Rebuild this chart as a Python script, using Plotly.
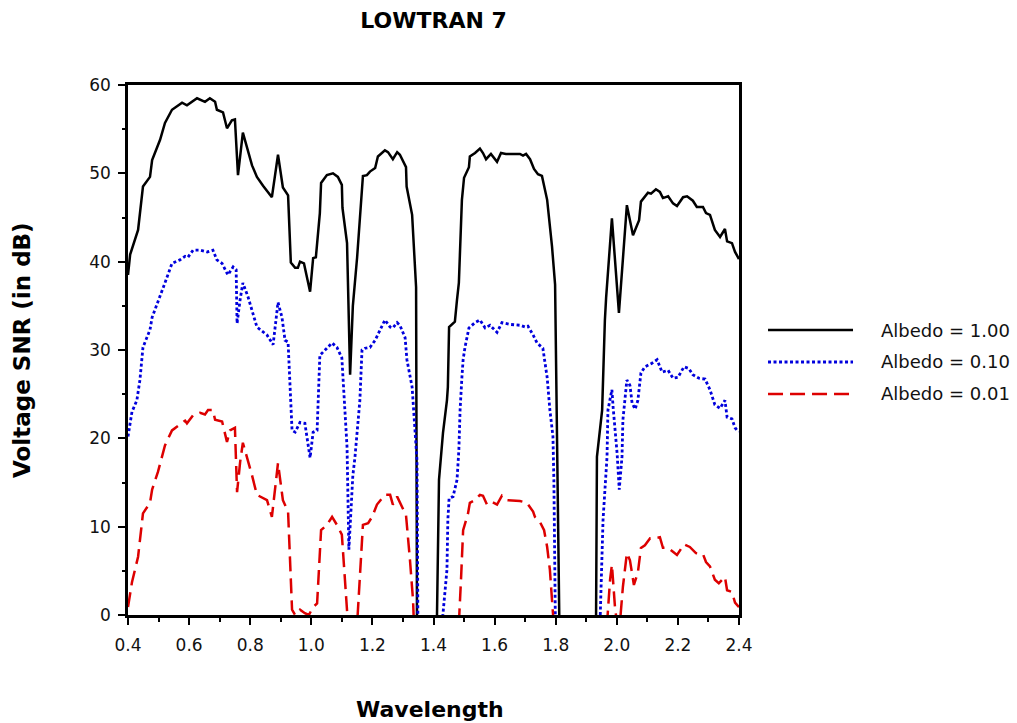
import plotly.graph_objects as go

# Wavelength (µm) and voltage SNR (dB) for three surface albedos, LOWTRAN 7 atmosphere.
# Values of -1 mark the absorption bands where the SNR falls below the axis.
wl_100 = [0.400, 0.407, 0.433, 0.449, 0.472, 0.479, 0.505, 0.521, 0.544, 0.577, 0.593, 0.626,
          0.652, 0.668, 0.685, 0.691, 0.711, 0.724, 0.740, 0.750, 0.760, 0.776, 0.806, 0.822,
          0.842, 0.871, 0.891, 0.907, 0.924, 0.933, 0.947, 0.956, 0.963, 0.976, 0.996, 1.006,
          1.015, 1.028, 1.032, 1.051, 1.071, 1.087, 1.100, 1.102, 1.117, 1.127, 1.136, 1.150,
          1.169, 1.182, 1.192, 1.209, 1.218, 1.241, 1.251, 1.267, 1.281, 1.290, 1.310, 1.312,
          1.330, 1.343, 1.346, 1.411, 1.418, 1.428, 1.431, 1.444, 1.447, 1.451, 1.470, 1.477,
          1.483, 1.493, 1.500, 1.516, 1.519, 1.536, 1.552, 1.562, 1.572, 1.588, 1.608, 1.621,
          1.637, 1.683, 1.693, 1.703, 1.716, 1.729, 1.742, 1.755, 1.772, 1.788, 1.798, 1.812,
          1.932, 1.935, 1.952, 1.961, 1.965, 1.984, 2.007, 2.033, 2.053, 2.073, 2.079, 2.102,
          2.112, 2.128, 2.141, 2.151, 2.168, 2.184, 2.197, 2.217, 2.230, 2.249, 2.262, 2.282,
          2.292, 2.305, 2.321, 2.338, 2.354, 2.361, 2.377, 2.387, 2.397, 2.400]
snr_100 = [38.5, 40.8, 43.6, 48.5, 49.6, 51.5, 53.8, 55.7, 57.2, 58.0, 57.7, 58.5,
           58.1, 58.5, 58.1, 57.2, 56.9, 55.1, 56.0, 56.1, 49.8, 54.6, 50.9, 49.6,
           48.6, 47.3, 52.1, 48.4, 47.5, 39.9, 39.3, 39.3, 40.0, 39.8, 36.6, 40.4,
           40.5, 45.5, 48.9, 49.8, 50.0, 49.6, 48.7, 46.1, 42.1, 27.2, 35.0, 40.5,
           49.7, 49.8, 50.2, 50.6, 51.9, 52.6, 52.4, 51.6, 52.4, 52.1, 50.7, 48.5,
           45.3, 37.1, -1.0, -1.0, 15.3, 19.8, 20.6, 24.3, 25.8, 32.6, 33.2, 35.7,
           37.6, 47.0, 49.5, 50.7, 51.9, 52.3, 52.8, 52.3, 51.6, 52.2, 51.3, 52.3,
           52.2, 52.2, 52.0, 52.2, 51.6, 50.5, 49.9, 49.7, 47.0, 41.7, 37.4, -1.0,
           -1.0, 17.9, 23.2, 33.4, 35.9, 44.9, 34.2, 46.4, 43.0, 44.7, 46.8, 47.8,
           47.7, 48.2, 47.9, 47.2, 47.4, 46.6, 46.3, 47.3, 47.4, 46.9, 46.2, 46.2,
           45.5, 45.3, 43.6, 42.8, 43.7, 42.3, 42.1, 41.1, 40.5, 40.3]

wl_010 = [0.400, 0.413, 0.429, 0.439, 0.449, 0.472, 0.479, 0.498, 0.521, 0.544, 0.570, 0.587,
          0.596, 0.613, 0.636, 0.659, 0.678, 0.691, 0.708, 0.727, 0.744, 0.754, 0.757, 0.767,
          0.776, 0.793, 0.822, 0.855, 0.875, 0.891, 0.904, 0.914, 0.924, 0.937, 0.947, 0.963,
          0.979, 0.996, 1.006, 1.019, 1.028, 1.051, 1.068, 1.084, 1.100, 1.117, 1.123, 1.136,
          1.143, 1.159, 1.166, 1.176, 1.192, 1.209, 1.225, 1.241, 1.258, 1.267, 1.281, 1.290,
          1.307, 1.313, 1.330, 1.339, 1.346, 1.349, 1.428, 1.438, 1.444, 1.447, 1.451, 1.464,
          1.470, 1.477, 1.483, 1.487, 1.493, 1.497, 1.503, 1.516, 1.536, 1.552, 1.569, 1.585,
          1.608, 1.624, 1.650, 1.683, 1.700, 1.709, 1.726, 1.739, 1.758, 1.772, 1.781, 1.791,
          1.794, 1.799, 1.945, 1.955, 1.968, 1.971, 1.984, 1.988, 2.001, 2.008, 2.017, 2.020,
          2.033, 2.043, 2.050, 2.060, 2.069, 2.079, 2.092, 2.115, 2.132, 2.148, 2.168, 2.184,
          2.200, 2.220, 2.236, 2.249, 2.269, 2.289, 2.305, 2.321, 2.338, 2.354, 2.361, 2.377,
          2.387, 2.394, 2.400]
snr_010 = [20.2, 23.0, 24.3, 26.6, 30.3, 32.3, 33.7, 35.4, 37.6, 39.8, 40.2, 40.6,
           40.5, 41.3, 41.3, 41.1, 41.3, 40.2, 39.8, 38.5, 39.4, 39.1, 33.0, 35.7,
           37.6, 36.0, 32.6, 31.7, 30.6, 35.4, 33.7, 31.1, 30.9, 20.9, 20.7, 21.8,
           21.7, 17.8, 20.7, 20.9, 29.4, 30.2, 30.8, 30.3, 29.1, 19.0, 7.4, 15.8,
           17.9, 24.3, 30.0, 30.2, 30.3, 31.1, 32.3, 33.4, 32.6, 32.5, 33.1, 32.8,
           31.4, 28.9, 25.8, 20.6, 17.5, -1.0, -1.0, 2.8, 5.1, 10.8, 13.2, 13.4,
           14.2, 15.3, 18.7, 23.2, 26.9, 28.9, 30.3, 32.5, 33.1, 33.4, 32.5, 32.8,
           32.0, 33.1, 32.9, 32.8, 32.6, 32.7, 31.7, 30.8, 30.2, 26.9, 23.2, 20.2,
           15.3, -1.0, -1.0, 10.8, 17.9, 23.2, 25.5, 23.5, 18.3, 14.2, 17.9, 22.1,
           26.6, 26.0, 24.0, 23.3, 24.3, 27.4, 28.1, 28.5, 28.9, 27.5, 27.7, 26.8,
           26.9, 28.1, 27.9, 27.2, 26.8, 26.7, 25.5, 23.8, 23.4, 24.3, 22.4, 22.2,
           21.2, 20.9, 20.8]

wl_001 = [0.400, 0.413, 0.433, 0.449, 0.472, 0.479, 0.498, 0.521, 0.544, 0.577, 0.587, 0.593,
          0.613, 0.636, 0.652, 0.662, 0.678, 0.685, 0.708, 0.724, 0.734, 0.750, 0.757, 0.767,
          0.776, 0.806, 0.822, 0.855, 0.871, 0.891, 0.907, 0.924, 0.937, 0.947, 0.963, 0.979,
          0.992, 1.006, 1.019, 1.032, 1.051, 1.068, 1.084, 1.100, 1.117, 1.120, 1.150, 1.169,
          1.186, 1.199, 1.215, 1.241, 1.258, 1.267, 1.281, 1.297, 1.310, 1.323, 1.333, 1.336,
          1.483, 1.490, 1.497, 1.513, 1.519, 1.536, 1.552, 1.562, 1.575, 1.592, 1.608, 1.624,
          1.641, 1.683, 1.706, 1.726, 1.732, 1.749, 1.762, 1.772, 1.781, 1.791, 1.794, 1.968,
          1.978, 1.984, 1.988, 1.994, 2.001, 2.010, 2.020, 2.033, 2.043, 2.050, 2.056, 2.069,
          2.079, 2.092, 2.109, 2.125, 2.141, 2.151, 2.168, 2.197, 2.220, 2.239, 2.259, 2.282,
          2.292, 2.305, 2.321, 2.334, 2.354, 2.361, 2.377, 2.387, 2.400]
snr_001 = [0.9, 3.7, 6.6, 11.5, 12.7, 14.2, 16.2, 19.2, 20.9, 21.7, 22.0, 21.7,
           22.6, 22.9, 22.7, 23.2, 23.2, 22.1, 21.9, 19.6, 20.9, 21.2, 13.9, 17.3,
           19.5, 15.8, 13.6, 13.0, 11.1, 17.2, 13.0, 11.7, 0.6, 0.0, 0.6, 0.2,
           0.0, 0.9, 1.3, 9.6, 10.2, 11.1, 10.2, 9.1, 0.9, -1.0, -1.0, 10.2,
           10.4, 11.1, 12.5, 13.6, 13.6, 12.5, 13.4, 12.2, 11.3, 6.2, 1.7, -1.0,
           -1.0, 4.0, 9.6, 11.5, 12.7, 13.0, 13.6, 13.5, 12.5, 12.8, 12.5, 13.5,
           13.0, 12.9, 12.7, 11.7, 11.1, 10.5, 9.6, 7.7, 5.1, 0.2, -1.0, -1.0,
           4.0, 5.7, 3.2, 0.9, -1.0, -1.0, 3.2, 7.0, 6.2, 4.8, 3.4, 4.8,
           7.6, 7.9, 8.7, 8.7, 8.8, 7.6, 7.6, 6.8, 8.0, 7.7, 7.0, 6.9,
           6.0, 5.5, 4.0, 3.6, 4.3, 2.8, 2.6, 1.4, 0.9]

series_names = ["Albedo = 1.00", "Albedo = 0.10", "Albedo = 0.01"]
x_ticks = [0.4, 0.6, 0.8, 1.0, 1.2, 1.4, 1.6, 1.8, 2.0, 2.2, 2.4]
y_ticks = [0, 10, 20, 30, 40, 50, 60]

styles = [
    dict(color="#000000", width=2.5, dash="solid"),
    dict(color="#0000dd", width=2.8, dash="3px,2.5px"),
    dict(color="#dd0000", width=2.5, dash="15px,7px"),
]
data = [(wl_100, snr_100), (wl_010, snr_010), (wl_001, snr_001)]

FONT = "DejaVu Sans, Verdana, sans-serif"

fig = go.Figure()
for (wx, wy), name, st in zip(data, series_names, styles):
    fig.add_trace(go.Scatter(x=wx, y=wy, mode="lines", name=name, line=st,
                             showlegend=False))

# Legend drawn as line samples with labels to the right of the plot
legend_rows = [0.5377, 0.4774, 0.4170]
for name, st, yy in zip(series_names, styles, legend_rows):
    fig.add_shape(type="line", xref="paper", yref="paper", x0=1.0475, x1=1.1866,
                  y0=yy, y1=yy, line=st)
    fig.add_annotation(text=name, xref="paper", yref="paper", x=1.2292, y=yy,
                       xanchor="left", yanchor="middle", showarrow=False,
                       font=dict(family=FONT, size=18, color="#111111"))

fig.add_annotation(text="<b>Wavelength</b>", xref="paper", yref="paper", x=0.494, y=-0.179,
                   xanchor="center", yanchor="middle", showarrow=False,
                   font=dict(family=FONT, size=22, color="#000000"))
fig.add_annotation(text="<b>Voltage SNR (in dB)</b>", xref="paper", yref="paper",
                   x=-0.1735, y=0.5, xanchor="center", yanchor="middle", textangle=-90,
                   showarrow=False, font=dict(family=FONT, size=23, color="#000000"))

axis_common = dict(showline=True, linecolor="#000000", linewidth=2.5, mirror=True,
                   showgrid=False, zeroline=False, ticks="outside", tickwidth=2,
                   ticklen=7, tickcolor="#000000",
                   tickfont=dict(family=FONT, size=17, color="#111111"))

fig.update_xaxes(range=[0.4, 2.4], tickmode="array", tickvals=x_ticks,
                 ticktext=[f"{v:.1f}" for v in x_ticks], ticklabelstandoff=6,
                 minor=dict(ticks="outside", dtick=0.1, tick0=0.4, ticklen=4,
                            tickwidth=2, tickcolor="#000000"),
                 **axis_common)
fig.update_yaxes(range=[0, 60], tickmode="array", tickvals=y_ticks, ticklabelstandoff=4,
                 minor=dict(ticks="outside", dtick=5, tick0=0, ticklen=3,
                            tickwidth=2, tickcolor="#000000"),
                 **axis_common)

fig.update_layout(
    width=1017, height=723,
    margin=dict(l=128, r=278, t=85, b=108),
    paper_bgcolor="#ffffff", plot_bgcolor="#ffffff",
    title=dict(text="<b>LOWTRAN 7</b>", x=0.4263, xanchor="center",
               y=1 - 20 / 723, yanchor="middle", yref="container",
               font=dict(family=FONT, size=22, color="#000000")),
    showlegend=False,
)

fig.write_html("out.html")
